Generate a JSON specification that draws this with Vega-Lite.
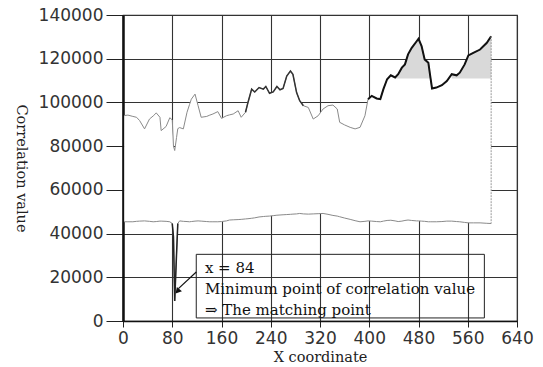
{
  "$schema": "https://vega.github.io/schema/vega-lite/v6.json",
  "width": 394,
  "height": 306,
  "autosize": {"type": "none"},
  "padding": {"left": 123, "top": 15, "right": 26, "bottom": 46},
  "background": "white",
  "config": {
    "view": {"stroke": "#333", "strokeWidth": 1.2},
    "axis": {
      "gridColor": "#333", "gridWidth": 1.1, "gridOpacity": 1,
      "domainColor": "#111", "tickColor": "#222", "labelFlush": false, "labelOverlap": false,
      "labelFont": "DejaVu Sans", "labelFontSize": 17, "labelColor": "#333",
      "titleFont": "DejaVu Serif", "titleFontSize": 14.5, "titleFontWeight": "normal", "titleColor": "#222"
    }
  },
  "datasets": {
    "curves": [
      {"x": 2, "upper": 94000, "lower": 45400},
      {"x": 8, "upper": 94200, "lower": 45400},
      {"x": 16, "upper": 93600, "lower": 45400},
      {"x": 22, "upper": 93200, "lower": 45600},
      {"x": 27, "upper": 91700, "lower": 45700},
      {"x": 35, "upper": 87900, "lower": 45800},
      {"x": 43, "upper": 92400, "lower": 45600},
      {"x": 49, "upper": 93800, "lower": 45400},
      {"x": 54, "upper": 95200, "lower": 45500},
      {"x": 60, "upper": 93200, "lower": 45700},
      {"x": 62, "upper": 87100, "lower": 45700},
      {"x": 70, "upper": 89000, "lower": 45600},
      {"x": 76, "upper": 93000, "lower": 45400},
      {"x": 80, "upper": 92000, "lower": 44600},
      {"x": 82, "upper": 80000, "lower": 38500},
      {"x": 84, "upper": 78000, "lower": 9200},
      {"x": 87, "upper": 84000, "lower": 30800},
      {"x": 89, "upper": 88000, "lower": 44600},
      {"x": 92, "upper": 88500, "lower": 45800},
      {"x": 98, "upper": 87900, "lower": 45600},
      {"x": 104, "upper": 95500, "lower": 45500},
      {"x": 108, "upper": 99000, "lower": 45400},
      {"x": 111, "upper": 101500, "lower": 45500},
      {"x": 117, "upper": 103800, "lower": 45700},
      {"x": 122, "upper": 98500, "lower": 45800},
      {"x": 127, "upper": 93200, "lower": 45700},
      {"x": 136, "upper": 93600, "lower": 45500},
      {"x": 141, "upper": 94200, "lower": 45400},
      {"x": 146, "upper": 94700, "lower": 45400},
      {"x": 154, "upper": 95800, "lower": 45400},
      {"x": 160, "upper": 92700, "lower": 45500},
      {"x": 168, "upper": 93900, "lower": 45800},
      {"x": 173, "upper": 94300, "lower": 46200},
      {"x": 179, "upper": 94700, "lower": 46300},
      {"x": 187, "upper": 96200, "lower": 46400},
      {"x": 192, "upper": 93200, "lower": 46500},
      {"x": 199, "upper": 95500, "lower": 46700},
      {"x": 203, "upper": 100000, "lower": 46800},
      {"x": 209, "upper": 106100, "lower": 47000},
      {"x": 214, "upper": 104800, "lower": 47200},
      {"x": 221, "upper": 106800, "lower": 47600},
      {"x": 228, "upper": 106100, "lower": 47800},
      {"x": 232, "upper": 107300, "lower": 47900},
      {"x": 238, "upper": 104200, "lower": 48000},
      {"x": 244, "upper": 104800, "lower": 48200},
      {"x": 250, "upper": 107300, "lower": 48400},
      {"x": 255, "upper": 105800, "lower": 48500},
      {"x": 260, "upper": 106400, "lower": 48600},
      {"x": 266, "upper": 112100, "lower": 48700},
      {"x": 272, "upper": 114400, "lower": 48800},
      {"x": 276, "upper": 112900, "lower": 48900},
      {"x": 282, "upper": 104500, "lower": 49000},
      {"x": 287, "upper": 100800, "lower": 49200},
      {"x": 293, "upper": 98500, "lower": 49000},
      {"x": 301, "upper": 97700, "lower": 48900},
      {"x": 309, "upper": 92400, "lower": 49000},
      {"x": 317, "upper": 93900, "lower": 49100},
      {"x": 325, "upper": 97000, "lower": 49200},
      {"x": 333, "upper": 98500, "lower": 48800},
      {"x": 341, "upper": 98800, "lower": 48300},
      {"x": 348, "upper": 97000, "lower": 48000},
      {"x": 352, "upper": 90900, "lower": 47700},
      {"x": 360, "upper": 89700, "lower": 47100},
      {"x": 369, "upper": 88600, "lower": 46500},
      {"x": 377, "upper": 87900, "lower": 45900},
      {"x": 385, "upper": 88600, "lower": 45400},
      {"x": 393, "upper": 93900, "lower": 45600},
      {"x": 398, "upper": 101500, "lower": 45800},
      {"x": 404, "upper": 103000, "lower": 45700},
      {"x": 412, "upper": 101800, "lower": 45500},
      {"x": 418, "upper": 101500, "lower": 45400},
      {"x": 423, "upper": 106100, "lower": 45700},
      {"x": 429, "upper": 110600, "lower": 46000},
      {"x": 435, "upper": 112400, "lower": 46100},
      {"x": 442, "upper": 111400, "lower": 45800},
      {"x": 447, "upper": 112900, "lower": 45500},
      {"x": 453, "upper": 115900, "lower": 45700},
      {"x": 458, "upper": 117400, "lower": 46000},
      {"x": 463, "upper": 122000, "lower": 46200},
      {"x": 469, "upper": 125000, "lower": 46000},
      {"x": 477, "upper": 128000, "lower": 45800},
      {"x": 480, "upper": 129100, "lower": 45800},
      {"x": 485, "upper": 125800, "lower": 45700},
      {"x": 490, "upper": 119700, "lower": 45600},
      {"x": 496, "upper": 118200, "lower": 45400},
      {"x": 499, "upper": 112100, "lower": 45400},
      {"x": 502, "upper": 106400, "lower": 45400},
      {"x": 509, "upper": 106800, "lower": 45400},
      {"x": 518, "upper": 107900, "lower": 45500},
      {"x": 526, "upper": 109800, "lower": 45700},
      {"x": 534, "upper": 112900, "lower": 45700},
      {"x": 542, "upper": 112400, "lower": 45500},
      {"x": 547, "upper": 113600, "lower": 45400},
      {"x": 555, "upper": 117400, "lower": 45100},
      {"x": 561, "upper": 121500, "lower": 44900},
      {"x": 569, "upper": 122700, "lower": 44900},
      {"x": 580, "upper": 124200, "lower": 44900},
      {"x": 591, "upper": 127300, "lower": 44700},
      {"x": 598, "upper": 130300, "lower": 44600}
    ],
    "box": [{"x1": 119, "x2": 587, "y1": 30500, "y2": 1400}],
    "arrow": [{"x1": 119, "y1": 22400, "x2": 90, "y2": 14800, "hx": 88.5, "hy": 13600}],
    "notes": [
      {"x": 133, "y": 24100, "text": "x = 84"},
      {"x": 133, "y": 14800, "text": "Minimum point of correlation value"},
      {"x": 133, "y": 5200, "text": "⇒ The matching point"}
    ]
  },
  "layer": [
    {
      "data": {"name": "curves"},
      "mark": {"type": "area", "color": "white", "opacity": 1},
      "encoding": {
        "x": {"field": "x", "type": "quantitative", "title": "X coordinate",
              "scale": {"domain": [0, 640], "nice": false},
              "axis": {"values": [0, 80, 160, 240, 320, 400, 480, 560, 640], "tickSize": 6, "labelPadding": 3,
                       "titleY": 36, "titleBaseline": "middle", "domainWidth": 1.5}},
        "y": {"field": "upper", "type": "quantitative", "title": "Correlation value",
              "scale": {"domain": [0, 140000], "nice": false},
              "axis": {"values": [0, 20000, 40000, 60000, 80000, 100000, 120000, 140000], "format": "d",
                       "tickSize": 17, "labelPadding": 3, "titleAngle": 90, "titleX": -103, "titleY": 153,
                       "titleAlign": "center", "titleBaseline": "middle", "domainWidth": 2.5}},
        "y2": {"field": "lower"}
      }
    },
    {
      "data": {"name": "curves"},
      "transform": [{"filter": "datum.x >= 442 && datum.x <= 499"}],
      "mark": {"type": "area", "color": "#d9d9d9"},
      "encoding": {
        "x": {"field": "x", "type": "quantitative", "title": "X coordinate"},
        "y": {"field": "upper", "type": "quantitative", "title": "Correlation value"},
        "y2": {"datum": 111000}
      }
    },
    {
      "data": {"name": "curves"},
      "transform": [{"filter": "datum.x >= 534"}],
      "mark": {"type": "area", "color": "#d9d9d9"},
      "encoding": {
        "x": {"field": "x", "type": "quantitative", "title": "X coordinate"},
        "y": {"field": "upper", "type": "quantitative", "title": "Correlation value"},
        "y2": {"datum": 111000}
      }
    },
    {
      "data": {"name": "curves"},
      "mark": {"type": "line", "color": "#8a8a8a", "strokeWidth": 1},
      "encoding": {
        "x": {"field": "x", "type": "quantitative", "title": "X coordinate"},
        "y": {"field": "lower", "type": "quantitative", "title": "Correlation value"}
      }
    },
    {
      "data": {"name": "curves"},
      "transform": [{"filter": "datum.x >= 80 && datum.x <= 89"}],
      "mark": {"type": "line", "color": "#222", "strokeWidth": 1.5},
      "encoding": {
        "x": {"field": "x", "type": "quantitative", "title": "X coordinate"},
        "y": {"field": "lower", "type": "quantitative", "title": "Correlation value"}
      }
    },
    {
      "data": {"name": "curves"},
      "mark": {"type": "line", "color": "#8a8a8a", "strokeWidth": 1},
      "encoding": {
        "x": {"field": "x", "type": "quantitative", "title": "X coordinate"},
        "y": {"field": "upper", "type": "quantitative", "title": "Correlation value"}
      }
    },
    {
      "data": {"name": "curves"},
      "transform": [{"filter": "datum.x >= 199 && datum.x <= 293"}],
      "mark": {"type": "line", "color": "#333", "strokeWidth": 1.5},
      "encoding": {
        "x": {"field": "x", "type": "quantitative", "title": "X coordinate"},
        "y": {"field": "upper", "type": "quantitative", "title": "Correlation value"}
      }
    },
    {
      "data": {"name": "curves"},
      "transform": [{"filter": "datum.x >= 398"}],
      "mark": {"type": "line", "color": "#111", "strokeWidth": 2},
      "encoding": {
        "x": {"field": "x", "type": "quantitative", "title": "X coordinate"},
        "y": {"field": "upper", "type": "quantitative", "title": "Correlation value"}
      }
    },
    {
      "data": {"name": "curves"},
      "transform": [{"filter": "datum.x == 598"}],
      "mark": {"type": "rule", "color": "#999", "strokeWidth": 1, "strokeDash": [2, 1]},
      "encoding": {
        "x": {"field": "x", "type": "quantitative", "title": "X coordinate"},
        "y": {"field": "upper", "type": "quantitative", "title": "Correlation value"},
        "y2": {"field": "lower"}
      }
    },
    {
      "data": {"name": "box"},
      "mark": {"type": "rect", "filled": false, "stroke": "#222", "strokeWidth": 1},
      "encoding": {
        "x": {"field": "x1", "type": "quantitative", "title": "X coordinate"},
        "x2": {"field": "x2"},
        "y": {"field": "y1", "type": "quantitative", "title": "Correlation value"},
        "y2": {"field": "y2"}
      }
    },
    {
      "data": {"name": "arrow"},
      "mark": {"type": "rule", "color": "#111", "strokeWidth": 1.2},
      "encoding": {
        "x": {"field": "x1", "type": "quantitative", "title": "X coordinate"},
        "x2": {"field": "x2"},
        "y": {"field": "y1", "type": "quantitative", "title": "Correlation value"},
        "y2": {"field": "y2"}
      }
    },
    {
      "data": {"name": "arrow"},
      "mark": {"type": "point", "shape": "triangle-up", "filled": true, "color": "#111", "size": 45, "angle": 221, "opacity": 1},
      "encoding": {
        "x": {"field": "hx", "type": "quantitative", "title": "X coordinate"},
        "y": {"field": "hy", "type": "quantitative", "title": "Correlation value"}
      }
    },
    {
      "data": {"name": "notes"},
      "mark": {"type": "text", "align": "left", "baseline": "middle", "font": "DejaVu Serif", "fontSize": 15, "color": "#111"},
      "encoding": {
        "x": {"field": "x", "type": "quantitative", "title": "X coordinate"},
        "y": {"field": "y", "type": "quantitative", "title": "Correlation value"},
        "text": {"field": "text"}
      }
    }
  ]
}
